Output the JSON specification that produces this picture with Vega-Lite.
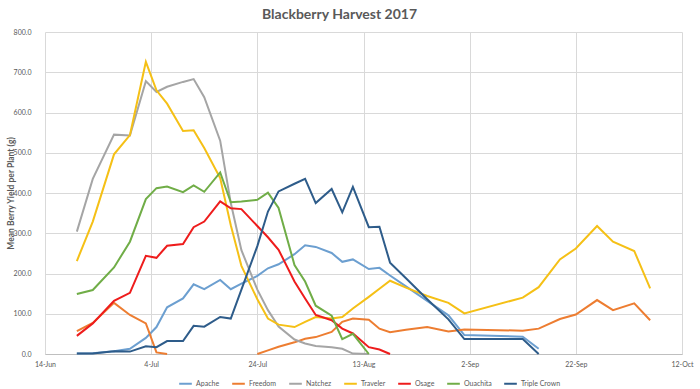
{
  "$schema": "https://vega.github.io/schema/vega-lite/v6.json",
  "width": 637,
  "height": 322,
  "autosize": {"type": "none"},
  "padding": {"left": 45, "top": 32, "right": 18, "bottom": 35},
  "background": "white",
  "config": {"view": {"stroke": null}, "font": "Lato"},
  "title": {"text": "Blackberry Harvest 2017", "fontSize": 14, "font": "Lato", "fontWeight": "bold", "color": "#595959", "anchor": "middle", "dx": -24, "offset": 6},
  "data": {"values": [
    {"date": "2017-06-20", "Apache": 1, "Freedom": 57, "Natchez": 304, "Traveler": 231, "Osage": 45, "Ouachita": 149, "Triple Crown": 1},
    {"date": "2017-06-23", "Apache": 2, "Freedom": 77, "Natchez": 435, "Traveler": 329, "Osage": 76, "Ouachita": 159, "Triple Crown": 1},
    {"date": "2017-06-27", "Apache": 7, "Freedom": 127, "Natchez": 545, "Traveler": 496, "Osage": 132, "Ouachita": 215, "Triple Crown": 7},
    {"date": "2017-06-30", "Apache": 13, "Freedom": 97, "Natchez": 543, "Traveler": 544, "Osage": 152, "Ouachita": 279, "Triple Crown": 6},
    {"date": "2017-07-03", "Apache": 40, "Freedom": 76, "Natchez": 678, "Traveler": 726, "Osage": 244, "Ouachita": 385, "Triple Crown": 19},
    {"date": "2017-07-05", "Apache": 67, "Freedom": 4, "Natchez": 651, "Traveler": 655, "Osage": 239, "Ouachita": 412, "Triple Crown": 17},
    {"date": "2017-07-07", "Apache": 116, "Freedom": 0, "Natchez": 664, "Traveler": 622, "Osage": 269, "Ouachita": 416, "Triple Crown": 32},
    {"date": "2017-07-10", "Apache": 138, "Freedom": null, "Natchez": 676, "Traveler": 554, "Osage": 273, "Ouachita": 402, "Triple Crown": 32},
    {"date": "2017-07-12", "Apache": 173, "Freedom": null, "Natchez": 683, "Traveler": 556, "Osage": 315, "Ouachita": 419, "Triple Crown": 70},
    {"date": "2017-07-14", "Apache": 161, "Freedom": null, "Natchez": 638, "Traveler": 512, "Osage": 329, "Ouachita": 403, "Triple Crown": 68},
    {"date": "2017-07-17", "Apache": 184, "Freedom": null, "Natchez": 530, "Traveler": 437, "Osage": 379, "Ouachita": 451, "Triple Crown": 92},
    {"date": "2017-07-19", "Apache": 161, "Freedom": null, "Natchez": 375, "Traveler": 320, "Osage": 362, "Ouachita": 377, "Triple Crown": 88},
    {"date": "2017-07-21", "Apache": 175, "Freedom": null, "Natchez": 258, "Traveler": 219, "Osage": 360, "Ouachita": 379, "Triple Crown": 160},
    {"date": "2017-07-24", "Apache": 194, "Freedom": 0, "Natchez": 160, "Traveler": 136, "Osage": 318, "Ouachita": 383, "Triple Crown": 268},
    {"date": "2017-07-26", "Apache": 213, "Freedom": 9, "Natchez": 109, "Traveler": 88, "Osage": 290, "Ouachita": 401, "Triple Crown": 354},
    {"date": "2017-07-28", "Apache": 223, "Freedom": 18, "Natchez": 68, "Traveler": 73, "Osage": 259, "Ouachita": 363, "Triple Crown": 404},
    {"date": "2017-07-31", "Apache": 248, "Freedom": 29, "Natchez": 36, "Traveler": 67, "Osage": 180, "Ouachita": 221, "Triple Crown": 423},
    {"date": "2017-08-02", "Apache": 270, "Freedom": 38, "Natchez": 26, "Traveler": 80, "Osage": 138, "Ouachita": 180, "Triple Crown": 435},
    {"date": "2017-08-04", "Apache": 266, "Freedom": 42, "Natchez": 20, "Traveler": 92, "Osage": 97, "Ouachita": 120, "Triple Crown": 375},
    {"date": "2017-08-07", "Apache": 251, "Freedom": 55, "Natchez": 17, "Traveler": 88, "Osage": 84, "Ouachita": 95, "Triple Crown": 410},
    {"date": "2017-08-09", "Apache": 229, "Freedom": 80, "Natchez": 13, "Traveler": 92, "Osage": 63, "Ouachita": 37, "Triple Crown": 352},
    {"date": "2017-08-11", "Apache": 235, "Freedom": 88, "Natchez": 1, "Traveler": 113, "Osage": 51, "Ouachita": 50, "Triple Crown": 415},
    {"date": "2017-08-14", "Apache": 211, "Freedom": 85, "Natchez": 0, "Traveler": 142, "Osage": 17, "Ouachita": 0, "Triple Crown": 315},
    {"date": "2017-08-16", "Apache": 214, "Freedom": 63, "Traveler": 162, "Osage": 11, "Triple Crown": 316},
    {"date": "2017-08-18", "Apache": 195, "Freedom": 54, "Traveler": 182, "Osage": 0, "Triple Crown": 227},
    {"date": "2017-08-21", "Apache": 168, "Freedom": 60, "Traveler": 165, "Triple Crown": 188},
    {"date": "2017-08-25", "Apache": 132, "Freedom": 67, "Traveler": 144, "Triple Crown": 136},
    {"date": "2017-08-29", "Apache": 96, "Freedom": 56, "Traveler": 127, "Triple Crown": 86},
    {"date": "2017-09-01", "Apache": 47, "Freedom": 61, "Traveler": 101, "Triple Crown": 37},
    {"date": "2017-09-12", "Apache": 43, "Freedom": 58, "Traveler": 140, "Triple Crown": 37},
    {"date": "2017-09-15", "Apache": 13, "Freedom": 63, "Traveler": 166, "Triple Crown": 0},
    {"date": "2017-09-19", "Freedom": 87, "Traveler": 235},
    {"date": "2017-09-22", "Freedom": 98, "Traveler": 262},
    {"date": "2017-09-26", "Freedom": 134, "Traveler": 318},
    {"date": "2017-09-29", "Freedom": 109, "Traveler": 279},
    {"date": "2017-10-03", "Freedom": 126, "Traveler": 256},
    {"date": "2017-10-06", "Freedom": 84, "Traveler": 163}
  ]},
  "transform": [
    {"fold": ["Apache", "Freedom", "Natchez", "Traveler", "Osage", "Ouachita", "Triple Crown"], "as": ["variety", "yield"]}
  ],
  "mark": {"type": "line", "strokeWidth": 2, "invalid": "break-paths-show-domains"},
  "encoding": {
    "x": {
      "field": "date", "type": "temporal",
      "scale": {"type": "utc", "domain": [{"year": 2017, "month": 6, "date": 14, "utc": true}, {"year": 2017, "month": 10, "date": 12, "utc": true}]},
      "axis": {
        "title": null,
        "values": [
          {"year": 2017, "month": 6, "date": 14, "utc": true},
          {"year": 2017, "month": 7, "date": 4, "utc": true},
          {"year": 2017, "month": 7, "date": 24, "utc": true},
          {"year": 2017, "month": 8, "date": 13, "utc": true},
          {"year": 2017, "month": 9, "date": 2, "utc": true},
          {"year": 2017, "month": 9, "date": 22, "utc": true},
          {"year": 2017, "month": 10, "date": 12, "utc": true}
        ],
        "format": "%-d-%b",
        "labelFontSize": 7,
        "labelColor": "#595959",
        "labelPadding": 6,
        "ticks": false,
        "grid": true,
        "gridColor": "#D9D9D9",
        "domainColor": "#BFBFBF",
        "labelFlush": false
      }
    },
    "y": {
      "field": "yield", "type": "quantitative",
      "scale": {"domain": [0, 800]},
      "axis": {
        "title": "Mean Berry Yield per Plant (g)",
        "values": [0, 100, 200, 300, 400, 500, 600, 700, 800],
        "format": ".1f",
        "labelFontSize": 7,
        "labelColor": "#595959",
        "labelPadding": 14,
        "ticks": false,
        "domain": false,
        "grid": true,
        "gridColor": "#D9D9D9",
        "titleFontSize": 8.5,
        "titleFontWeight": "bold",
        "titleColor": "#595959",
        "titlePadding": -2
      }
    },
    "color": {
      "field": "variety", "type": "nominal",
      "scale": {
        "domain": ["Apache", "Freedom", "Natchez", "Traveler", "Osage", "Ouachita", "Triple Crown"],
        "range": ["#6C9FD0", "#ED7D31", "#A5A5A5", "#F5C016", "#EE1C1C", "#70AD47", "#2E5C8A"]
      },
      "legend": {
        "title": null,
        "orient": "none",
        "legendX": 133,
        "legendY": 344,
        "direction": "horizontal",
        "symbolType": "stroke",
        "symbolStrokeWidth": 2,
        "symbolSize": 160,
        "labelFontSize": 7,
        "labelColor": "#595959",
        "labelOffset": 3,
        "columnPadding": 8
      }
    }
  }
}
